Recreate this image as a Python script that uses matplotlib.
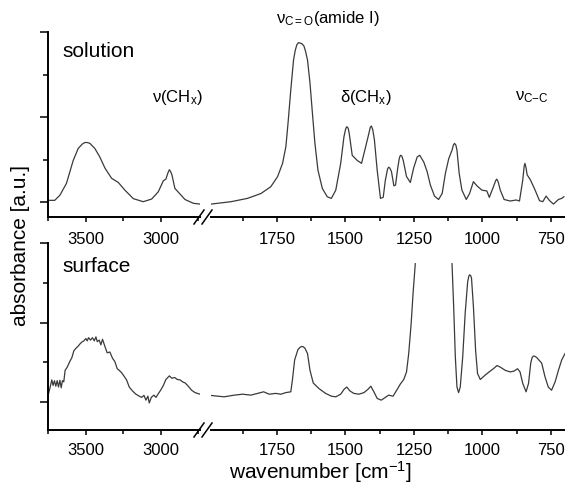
import numpy as np
import matplotlib.pyplot as plt
from matplotlib.lines import Line2D
from matplotlib.ticker import MultipleLocator

plt.rcParams['font.family'] = ['Liberation Sans', 'DejaVu Sans']
plt.rcParams['mathtext.fontset'] = 'custom'
plt.rcParams['mathtext.rm'] = 'Liberation Sans'
plt.rcParams['mathtext.it'] = 'Liberation Sans'
plt.rcParams['mathtext.default'] = 'regular'

# solution spectrum, high wavenumber part
sol_hi_wn = [3751, 3707, 3673, 3629, 3584, 3551, 3525, 3507, 3490, 3473, 3440, 3407, 3373, 3329, 3284,
             3240, 3184, 3118, 3062, 3018, 2984, 2967, 2952, 2944, 2936, 2927, 2907, 2873, 2840, 2784, 2740]
sol_hi_ab = [0.02, 0.02, 0.08, 0.22, 0.49, 0.63, 0.68, 0.70, 0.70, 0.69, 0.63, 0.53, 0.40, 0.28, 0.23,
             0.14, 0.04, 0.004, 0.035, 0.12, 0.25, 0.27, 0.35, 0.38, 0.36, 0.32, 0.16, 0.094, 0.03, -0.015, -0.024]

# solution spectrum, fingerprint part
sol_lo_wn = [1990, 1917, 1857, 1808, 1772, 1747, 1729, 1717, 1709, 1699, 1689, 1683, 1677, 1671, 1665,
             1658, 1651, 1645, 1638, 1629, 1620, 1611, 1600, 1584, 1566, 1551, 1535, 1517, 1505, 1499,
             1495, 1490, 1486, 1475, 1457, 1441, 1426, 1414, 1409, 1405, 1400, 1394, 1384, 1372, 1362,
             1354, 1346, 1342, 1338, 1332, 1323, 1317, 1309, 1303, 1299, 1294, 1289, 1277, 1263, 1251,
             1238, 1229, 1214, 1202, 1190, 1175, 1160, 1147, 1135, 1123, 1111, 1106, 1102, 1097, 1093,
             1085, 1075, 1059, 1047, 1033, 1020, 1002, 984, 975, 960, 952, 948, 943, 935, 921, 899,
             877, 865, 853, 848, 845, 841, 837, 825, 808, 792, 780, 768, 755, 741, 723, 711, 703]
sol_lo_ab = [-0.024, 0.004, 0.043, 0.10, 0.18, 0.30, 0.455, 0.65, 0.93, 1.32, 1.67, 1.78, 1.85, 1.875, 1.87,
             1.86, 1.835, 1.77, 1.67, 1.40, 1.04, 0.69, 0.376, 0.16, 0.062, 0.043, 0.14, 0.455, 0.77, 0.86,
             0.886, 0.87, 0.81, 0.55, 0.49, 0.455, 0.65, 0.81, 0.88, 0.894, 0.85, 0.73, 0.376, 0.043, 0.055,
             0.26, 0.39, 0.41, 0.40, 0.36, 0.19, 0.20, 0.40, 0.52, 0.55, 0.54, 0.49, 0.30, 0.23, 0.40,
             0.53, 0.55, 0.47, 0.36, 0.20, 0.07, 0.03, 0.10, 0.34, 0.51, 0.61, 0.67, 0.69, 0.67, 0.61,
             0.34, 0.14, 0.03, 0.10, 0.24, 0.19, 0.14, 0.13, 0.055, 0.18, 0.25, 0.27, 0.24, 0.14, 0.03, 0.012,
             0.024, 0.012, 0.26, 0.42, 0.455, 0.40, 0.32, 0.26, 0.14, 0.016, 0.004, 0.07, 0.016, -0.024, 0.03,
             0.043, 0.062]

# surface spectrum, high wavenumber part
surf_hi_wn = [3751, 3740, 3727, 3718, 3709, 3700, 3691, 3682, 3673, 3664, 3656, 3647, 3638, 3624,
              3607, 3593, 3580, 3567, 3553, 3540, 3527, 3513, 3500, 3491, 3482, 3469, 3456, 3444,
              3433, 3424, 3411, 3400, 3389, 3373, 3358, 3340, 3322, 3307, 3291, 3278, 3262, 3247,
              3229, 3211, 3189, 3167, 3144, 3129, 3113, 3100, 3087, 3078, 3064, 3047, 3033, 3020,
              3002, 2984, 2967, 2944, 2927, 2909, 2891, 2873, 2856, 2838, 2818, 2796, 2773, 2740]
surf_hi_ab = [0.088, 0.17, 0.28, 0.21, 0.27, 0.20, 0.27, 0.19, 0.275, 0.18, 0.27, 0.255, 0.40, 0.44,
              0.51, 0.56, 0.645, 0.675, 0.70, 0.73, 0.755, 0.77, 0.80, 0.77, 0.81, 0.78, 0.81, 0.77,
              0.82, 0.76, 0.78, 0.72, 0.79, 0.70, 0.62, 0.63, 0.55, 0.51, 0.42, 0.40, 0.37, 0.33,
              0.28, 0.19, 0.14, 0.10, 0.075, 0.06, 0.085, 0.025, 0.075, -0.01, 0.06, 0.088, 0.06, 0.10,
              0.15, 0.21, 0.285, 0.33, 0.30, 0.31, 0.285, 0.28, 0.255, 0.24, 0.20, 0.15, 0.12, 0.10]

# surface spectrum, fingerprint part (off scale between 1245 and 1111)
surf_lo_wn = [1990, 1942, 1905, 1875, 1845, 1820, 1798, 1778, 1754, 1735, 1717, 1699, 1693, 1685,
              1673, 1665, 1659, 1653, 1647, 1638, 1629, 1617, 1596, 1572, 1551, 1535, 1517, 1505, 1495,
              1483, 1469, 1451, 1432, 1418, 1407, 1396, 1384, 1369, 1354, 1342, 1326, 1311, 1299, 1287,
              1277, 1269, 1260, 1253, 1245, 1178, 1111, 1105, 1099, 1093, 1087, 1081, 1072, 1063,
              1054, 1050, 1047, 1043, 1040, 1033, 1025, 1018, 1008, 990, 972, 960, 947, 935, 917, 899, 885,
              872, 863, 853, 841, 832, 824, 819, 814, 808, 802, 784, 772, 760, 748, 735, 723, 711, 699]
surf_lo_ab = [0.084, 0.067, 0.088, 0.10, 0.088, 0.11, 0.13, 0.10, 0.11, 0.10, 0.12, 0.13, 0.28, 0.53,
              0.66, 0.69, 0.70, 0.695, 0.675, 0.61, 0.40, 0.24, 0.17, 0.11, 0.075, 0.067, 0.10, 0.16, 0.19,
              0.14, 0.11, 0.10, 0.12, 0.16, 0.20, 0.13, 0.047, 0.025, 0.06, 0.088, 0.075, 0.16, 0.23, 0.285,
              0.38, 0.61, 0.99, 1.37, 1.74, np.nan, 1.74, 1.20, 0.57, 0.19, 0.12, 0.19, 0.57, 1.12,
              1.51, 1.58, 1.60, 1.59, 1.56, 1.20, 0.65, 0.36, 0.285, 0.34, 0.39, 0.42, 0.46, 0.44, 0.40, 0.38,
              0.39, 0.42, 0.38, 0.235, 0.13, 0.235, 0.49, 0.56, 0.58, 0.575, 0.56, 0.49, 0.32, 0.19, 0.15,
              0.255, 0.40, 0.53, 0.61]

W, H = 565, 492
fig = plt.figure(figsize=(W / 100, H / 100), dpi=100)


def fx(px):
    return px / W


def fy(py):
    return 1 - py / H


line_kw = dict(color='#3a3a3a', linewidth=0.9)


def make_panel(top, bottom, ylim, hi, lo, tick_pad):
    ax1 = fig.add_axes([fx(48), fy(bottom), fx(200) - fx(48), fy(top) - fy(bottom)])
    ax2 = fig.add_axes([fx(211), fy(bottom), fx(565) - fx(211), fy(top) - fy(bottom)])
    ax1.plot(hi[0], hi[1], **line_kw)
    ax2.plot(lo[0], lo[1], **line_kw)
    ax1.set_xlim(3752, 2740)
    ax2.set_xlim(1990, 699)
    for ax in (ax1, ax2):
        ax.set_ylim(*ylim)
        ax.spines['top'].set_visible(False)
        ax.spines['right'].set_visible(False)
        ax.spines['bottom'].set_linewidth(1.4)
        ax.spines['left'].set_linewidth(1.4)
        ax.tick_params(axis='x', which='major', length=3.5, width=1.1, labelsize=12, pad=tick_pad)
        ax.tick_params(axis='x', which='minor', length=3, width=1.1)
        ax.patch.set_visible(False)
    ax1.xaxis.set_major_locator(MultipleLocator(500))
    ax1.xaxis.set_minor_locator(MultipleLocator(250))
    ax2.xaxis.set_major_locator(MultipleLocator(250))
    ax2.xaxis.set_minor_locator(MultipleLocator(125))
    ax1.set_yticks([0, 1, 2])
    ax1.set_yticks([0.5, 1.5], minor=True)
    ax1.set_yticklabels([])
    ax1.tick_params(axis='y', which='major', length=6, width=1.1)
    ax1.tick_params(axis='y', which='minor', length=3.6, width=1.1)
    ax2.spines['left'].set_visible(False)
    ax2.set_yticks([])
    # break marks
    for cx in (199, 207):
        fig.add_artist(Line2D([fx(cx - 5), fx(cx + 5)], [fy(bottom + 7), fy(bottom - 7)],
                              color='black', linewidth=1.1))
    return ax1, ax2


top1, top2 = make_panel(32, 217, (-0.176, 2.0), (sol_hi_wn, sol_hi_ab), (sol_lo_wn, sol_lo_ab), 7)
bot1, bot2 = make_panel(243, 430, (-0.35, 2.0), (surf_hi_wn, surf_hi_ab), (surf_lo_wn, surf_lo_ab), 6)

fig.text(fx(62), fy(57), 'solution', fontsize=15, ha='left', va='baseline')
fig.text(fx(62), fy(272), 'surface', fontsize=15, ha='left', va='baseline')
fig.text(fx(152), fy(102), 'ν(CH$_x$)', fontsize=12, ha='left', va='baseline')
fig.text(fx(340), fy(102), 'δ(CH$_x$)', fontsize=12, ha='left', va='baseline')
fig.text(fx(515), fy(100), 'ν$_{C{-}C}$', fontsize=12, ha='left', va='baseline')
fig.text(fx(276), fy(23), 'ν$_{C{=}O}$(amide I)', fontsize=12, ha='left', va='baseline')

fig.text(fx(320), fy(472), 'wavenumber [cm$^{-1}$]', fontsize=15, ha='center', va='center')
fig.text(fx(21), fy(245), 'absorbance [a.u.]', fontsize=15, ha='center', va='center', rotation=90)

plt.savefig('out.png', dpi=100)
